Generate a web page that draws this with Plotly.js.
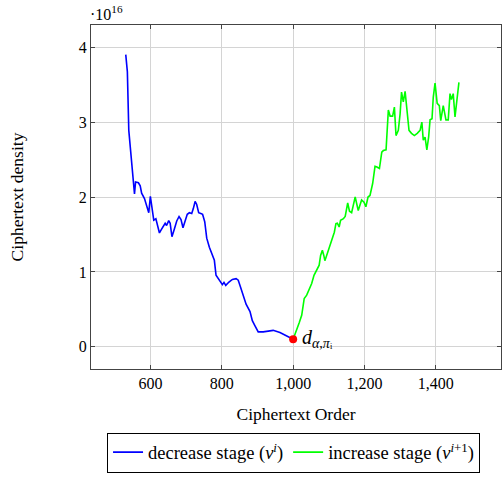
<!DOCTYPE html>
<html>
<head>
<meta charset="utf-8">
<script src="https://cdn.plot.ly/plotly-3.0.1.min.js"></script>
<style>html,body{margin:0;padding:0;background:#fff;}#chart{width:502px;height:478px;}</style>
</head>
<body>
<div id="chart"></div>
<script>
// Values of ciphertext density are in units of 1e16
const decreaseOrder = [530.5,535,539,544,550,555,558,566,571,575,583,589,595,599.5,604,609,615,625,631,641,645,651,655,660,666,673.5,680,685.5,691,697,703,709,715.5,720,725,729.5,735,741,746,752,757.6,765,771.6,779,783.7,793,801.5,806,811,820,829.5,840,846,853,860,868,879,885.5,893,902,916,930,944,963,982,991,1000];
const decreaseDensity = [3.90,3.67,2.89,2.62,2.36,2.04,2.20,2.19,2.15,2.05,1.98,1.87,1.79,2.01,1.82,1.69,1.71,1.52,1.57,1.65,1.62,1.685,1.65,1.47,1.56,1.68,1.74,1.70,1.59,1.69,1.77,1.79,1.78,1.845,1.94,1.90,1.79,1.78,1.77,1.67,1.45,1.33,1.245,1.155,0.955,0.89,0.83,0.86,0.82,0.865,0.90,0.91,0.89,0.79,0.70,0.57,0.47,0.35,0.28,0.20,0.20,0.21,0.22,0.19,0.14,0.125,0.10];
const increaseOrder = [1000,1010,1017,1024,1028,1031,1038,1045,1052,1058.5,1066,1073,1077,1082,1086,1089,1094,1100,1105,1111,1115.5,1120,1124,1129,1133,1141,1146,1153,1158,1164,1174,1182.6,1192,1198.7,1204,1210,1215.5,1223,1229.6,1235,1242,1248.6,1253,1260.6,1267,1272,1279,1284,1288.5,1295,1300,1304,1309,1314,1318,1325,1332,1340,1348,1356,1361,1365,1370,1375,1380,1384,1389.5,1393,1398,1404,1410,1414,1421,1428.6,1435,1440,1444,1449,1454,1459,1465];
const increaseDensity = [0.10,0.22,0.32,0.42,0.53,0.645,0.69,0.765,0.845,0.955,1.02,1.09,1.22,1.29,1.22,1.15,1.22,1.31,1.40,1.47,1.53,1.645,1.65,1.60,1.69,1.71,1.74,1.92,1.81,1.79,2.00,1.82,1.96,1.93,1.87,2.00,2.02,2.18,2.41,2.40,2.38,2.60,2.62,2.63,3.16,3.08,3.08,3.20,2.82,2.89,3.11,3.40,3.27,3.41,3.245,2.89,2.85,2.82,2.85,2.89,3.00,2.76,2.80,2.63,2.80,3.03,3.045,3.33,3.52,3.25,3.22,3.02,3.22,3.03,3.03,3.38,3.30,3.38,3.07,3.27,3.53];
const markOrder = [1000];
const markDensity = [0.10];
const xTicks = [600,800,1000,1200,1400];
const yTicks = [0,1,2,3,4];

const serif = "Liberation Serif, DejaVu Serif, serif";

const traces = [
  {x: decreaseOrder, y: decreaseDensity, mode: 'lines', name: 'decrease stage (<i>v</i><sup><i>i</i></sup>)',
   line: {color: '#0000ff', width: 1.6}},
  {x: increaseOrder, y: increaseDensity, mode: 'lines', name: 'increase stage (<i>v</i><sup><i>i</i>+1</sup>)',
   line: {color: '#00ff00', width: 1.6}},
  {x: markOrder, y: markDensity, mode: 'markers', showlegend: false,
   marker: {color: '#ff0000', size: 8}}
];

const layout = {
  width: 502, height: 478,
  margin: {l: 91, r: 1, t: 24.5, b: 109},
  paper_bgcolor: '#fff', plot_bgcolor: '#fff',
  font: {family: serif, size: 16, color: '#000'},
  showlegend: true,
  legend: {orientation: 'h', x: 0.494, xanchor: 'center', y: -0.185, yanchor: 'top',
    bordercolor: '#000', borderwidth: 1, font: {family: serif, size: 18.5, color: '#000'},
    tracegroupgap: 0},
  xaxis: {
    range: [433, 1583], tickvals: xTicks, tickformat: ',', ticks: 'inside', ticklen: 4,
    tickcolor: '#444', showline: true, linecolor: '#444', linewidth: 1, mirror: 'allticks',
    showgrid: true, gridcolor: '#d4d4d4', gridwidth: 1, zeroline: false,
    tickfont: {family: serif, size: 16},
    title: {text: 'Ciphertext Order', font: {family: serif, size: 17.5}, standoff: 16}
  },
  yaxis: {
    range: [-0.296, 4.296], tickvals: yTicks, ticks: 'inside', ticklen: 4,
    tickcolor: '#444', showline: true, linecolor: '#444', linewidth: 1, mirror: 'allticks',
    showgrid: true, gridcolor: '#d4d4d4', gridwidth: 1, zeroline: false,
    tickfont: {family: serif, size: 16},
    title: {text: 'Ciphertext density', font: {family: serif, size: 17.5}, standoff: 50}
  },
  annotations: [
    {xref: 'paper', yref: 'paper', x: 0, y: 1, xanchor: 'left', yanchor: 'bottom', yshift: 0, xshift: -3,
     text: '·10<sup>16</sup>', showarrow: false, font: {family: serif, size: 16}},
    {xref: 'x', yref: 'y', x: 1000, y: 0.10, xanchor: 'left', yanchor: 'middle', xshift: 7, yshift: 1,
     text: '<i>d</i><sub><i>α,π</i>ᵢ</sub>', showarrow: false, font: {family: serif, size: 20}}
  ]
};

Plotly.newPlot('chart', traces, layout, {displayModeBar: false, staticPlot: true});
</script>
</body>
</html>
